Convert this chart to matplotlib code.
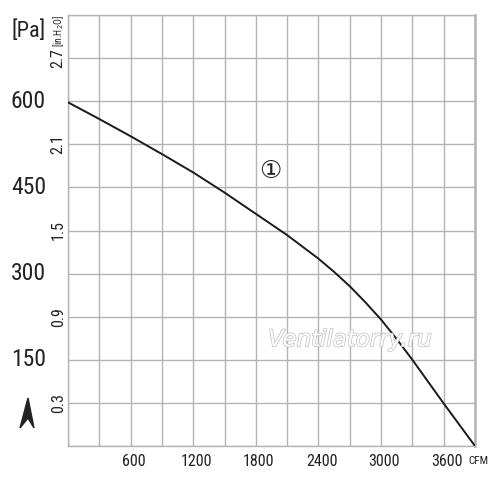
import matplotlib
matplotlib.use('Agg')
import matplotlib.pyplot as plt
import matplotlib.patheffects as pe
from matplotlib import font_manager
from matplotlib.patches import Polygon

# fan curve
flow_cfm = [0, 300, 600, 900, 1200, 1500, 1800, 2100, 2400, 2550, 2700, 2850,
            3000, 3150, 3300, 3450, 3600, 3750, 3900]
pressure_pa = [598, 569, 539, 508, 476, 441, 404, 367, 326, 303, 278, 250,
               220, 186, 150, 112, 74, 37, 0]

x_ticks = [600, 1200, 1800, 2400, 3000, 3600]
pa_ticks = [150, 300, 450, 600]
inh2o_labels = ['0.3', '0.9', '1.5', '2.1', '2.7']
inh2o_pos = [75, 225, 375, 525, 675]

# pick a narrow font if one is installed
have = {f.name for f in font_manager.fontManager.ttflist}
narrow = [f for f in ['Liberation Sans Narrow', 'DejaVu Sans Condensed',
                      'Roboto Condensed', 'Open Sans Condensed', 'Liberation Sans']
          if f in have] + ['DejaVu Sans']
grid_c = '#b4b4b4'
txt_c = '#222222'

fig = plt.figure(figsize=(5, 4.82), dpi=100)
ax = fig.add_axes([68 / 500, 36 / 482, 407 / 500, 431 / 482])

ax.plot(flow_cfm, pressure_pa, color='#1a1a1a', lw=1.4, zorder=3)

ax.set_xlim(0, 3900)
ax.set_ylim(0, 750)
ax.set_xticks(range(0, 3901, 300))
ax.set_yticks(range(0, 751, 75))
ax.grid(True, color=grid_c, lw=1.0)
ax.tick_params(length=0, labelbottom=False, labelleft=False)
for s in ax.spines.values():
    s.set_color(grid_c)
    s.set_linewidth(1.0)
ax.spines['right'].set_linewidth(1.8)

# bottom labels
for v in x_ticks:
    ax.text(v + 30, -14, str(v), ha='center', va='top', fontsize=11.5,
            family=narrow, color=txt_c)
ax.text(3930, -17, 'CFM', ha='center', va='top', fontsize=8,
        family=narrow, color=txt_c)

# Pa labels
ytr = ax.get_yaxis_transform()
for v in pa_ticks:
    ax.text(-0.097, v, str(v), transform=ytr, ha='center', va='center',
            fontsize=17, family=narrow, color=txt_c)
ax.text(-0.097, 722, '[Pa]', transform=ytr, ha='center', va='center',
        fontsize=16, family=narrow, color=txt_c)

# in.H2O labels
for lab, v in zip(inh2o_labels, inh2o_pos):
    ax.text(-0.024, v, lab, transform=ytr, rotation=90, ha='center', va='center',
            fontsize=11.5, family=narrow, color=txt_c)
ax.text(-0.024, 722, '[in.H$_2$O]', transform=ytr, rotation=90,
        ha='center', va='center', fontsize=7, family=narrow, color=txt_c)

# curve number
ax.text(1940, 478, '\u2460', ha='center', va='center', fontsize=18,
        family=['DejaVu Serif', 'DejaVu Sans'], color=txt_c)

# watermark
ax.text(2700, 185, 'Ventilatorry.ru', ha='center', va='center', fontsize=16.5,
        style='italic', color='white', family='DejaVu Sans', zorder=4,
        path_effects=[pe.withStroke(linewidth=1.2, foreground='#c8c8c8')])

# small up arrow at left
pts = [(28, 398), (34, 428), (28, 418), (20, 428)]
arrow = Polygon([(px / 500, 1 - py / 482) for px, py in pts], closed=True,
                transform=fig.transFigure, color=txt_c)
fig.patches.append(arrow)

fig.savefig('out.png', dpi=100)
